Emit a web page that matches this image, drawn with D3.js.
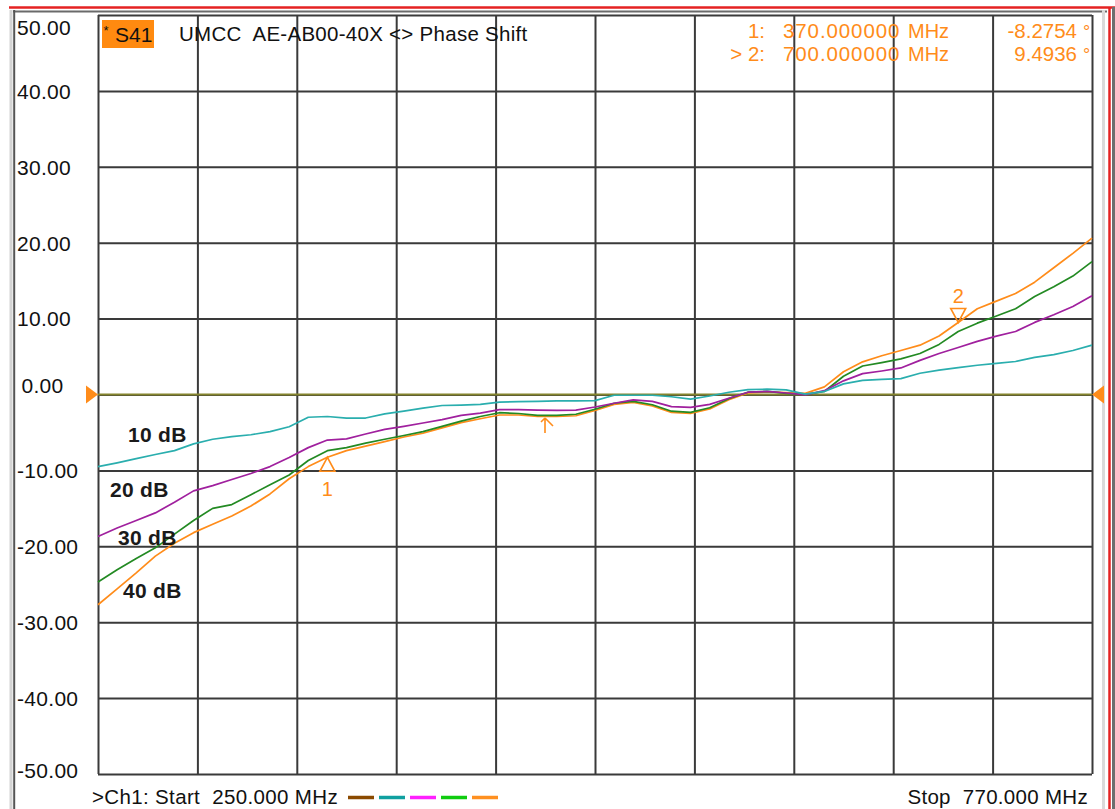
<!DOCTYPE html>
<html><head><meta charset="utf-8">
<script src="https://cdn.jsdelivr.net/npm/d3@7"></script>
<style>
html,body{margin:0;padding:0;background:#fff;overflow:hidden;}
svg{display:block;font-family:"Liberation Sans",Arial,sans-serif;}
text{white-space:pre;}
</style></head><body>
<svg id="chart" width="1115" height="809"></svg>
<script>
// ---------------- DATA ----------------
const freqMHz = [250,260,270,280,290,300,310,320,330,340,350,360,370,380,390,400,410,420,430,440,450,460,470,480,490,500,510,520,530,540,550,560,570,580,590,600,610,620,630,640,650,660,670,680,690,700,710,720,730,740,750,760,770];
const phase10dB = [-9.5,-9.0,-8.45,-7.9,-7.4,-6.5,-5.9,-5.55,-5.3,-4.9,-4.25,-3.0,-2.9,-3.1,-3.1,-2.55,-2.2,-1.8,-1.45,-1.4,-1.3,-1.0,-0.95,-0.9,-0.85,-0.85,-0.8,-0.1,-0.1,-0.1,-0.3,-0.6,-0.2,0.3,0.65,0.7,0.6,0.05,0.4,1.4,1.85,2.0,2.1,2.8,3.2,3.55,3.85,4.1,4.35,4.9,5.25,5.8,6.5];
const phase20dB = [-18.7,-17.6,-16.6,-15.6,-14.2,-12.7,-12.0,-11.2,-10.4,-9.5,-8.3,-7.0,-6.0,-5.85,-5.2,-4.6,-4.2,-3.75,-3.3,-2.75,-2.45,-2.0,-2.0,-2.05,-2.1,-2.05,-1.65,-1.15,-0.7,-0.9,-1.6,-1.7,-1.3,-0.5,0.3,0.4,0.2,-0.05,0.5,1.8,2.75,3.1,3.5,4.5,5.4,6.2,7.0,7.7,8.3,9.5,10.5,11.6,13.0];
const phase30dB = [-24.7,-23.1,-21.6,-20.2,-18.4,-16.6,-15.0,-14.5,-13.2,-11.9,-10.6,-8.7,-7.4,-7.0,-6.4,-5.9,-5.4,-4.9,-4.2,-3.5,-2.9,-2.4,-2.5,-2.75,-2.75,-2.6,-1.95,-1.15,-0.9,-1.35,-2.2,-2.35,-1.75,-0.55,0.3,0.4,0.15,0.0,0.4,2.4,3.75,4.2,4.7,5.4,6.6,8.3,9.4,10.35,11.3,12.9,14.2,15.6,17.5];
const phase40dB = [-27.7,-25.6,-23.5,-21.3,-19.6,-18.2,-17.1,-16.0,-14.7,-13.1,-11.1,-9.5,-8.2754,-7.4,-6.8,-6.2,-5.6,-5.1,-4.4,-3.7,-3.2,-2.7,-2.7,-2.9,-2.9,-2.8,-2.1,-1.3,-1.05,-1.5,-2.35,-2.5,-1.9,-0.7,0.2,0.35,0.25,0.15,1.0,3.0,4.3,5.1,5.8,6.5,7.7,9.4936,11.3,12.3,13.3,14.8,16.7,18.6,20.6];
const seriesLabels = ["10 dB","20 dB","30 dB","40 dB"];
const yTickValues = [50,40,30,20,10,0,-10,-20,-30,-40,-50];
const xGridValues = [250,302,354,406,458,510,562,614,666,718,770];
const markerNames = ["1","2"];
const markerFreqs = [370,700];
const markerValues = [-8.2754,9.4936];
const startMHz = 250, stopMHz = 770;
const titleText = "UMCC  AE-AB00-40X <> Phase Shift";
const traceName = "S41";

// ---------------- STYLE / LAYOUT ----------------
const W = 1115, H = 809;
const plot = {left:98, right:1092, top:15, bottom:774};
const ORANGE = "#ff8c1a";
const seriesColors = ["#2aaeae","#a0209e","#238a23","#ff8c1a"];
const legendColors = ["#8b4a00","#10a0a0","#ff20ff","#10cc10","#ff9020"];

const svg = d3.select("#chart");
const x = d3.scaleLinear().domain([startMHz, stopMHz]).range([plot.left, plot.right]);
const y = d3.scaleLinear().domain([-50, 50]).range([plot.bottom, plot.top]);

// frame
svg.append("rect").attr("x",0).attr("y",0).attr("width",W).attr("height",H).attr("fill","#fff");
svg.append("line").attr("x1",9).attr("x2",W).attr("y1",7.5).attr("y2",7.5).attr("stroke","#e52222").attr("stroke-width",2.5);
svg.append("line").attr("x1",13).attr("x2",1107).attr("y1",11.5).attr("y2",11.5).attr("stroke","#6a6a6a").attr("stroke-width",2);
svg.append("line").attr("x1",11).attr("x2",11).attr("y1",10).attr("y2",H).attr("stroke","#d4d4d4").attr("stroke-width",3);
svg.append("line").attr("x1",14.2).attr("x2",14.2).attr("y1",10).attr("y2",H).attr("stroke","#555").attr("stroke-width",2);
svg.append("line").attr("x1",1103.5).attr("x2",1103.5).attr("y1",10).attr("y2",H).attr("stroke","#dadada").attr("stroke-width",3);
svg.append("line").attr("x1",1109.5).attr("x2",1109.5).attr("y1",7).attr("y2",H).attr("stroke","#e52222").attr("stroke-width",2.5);
svg.append("line").attr("x1",1113.5).attr("x2",1113.5).attr("y1",7).attr("y2",H).attr("stroke","#6e6e6e").attr("stroke-width",3);

// grid via axes
const gridColor = "#3a3a3a";
const gx = svg.append("g").attr("transform",`translate(0,${plot.bottom})`)
  .call(d3.axisBottom(x).tickValues(xGridValues).tickSize(-(plot.bottom-plot.top)).tickFormat(""));
gx.select(".domain").remove();
gx.selectAll(".tick line").attr("stroke",gridColor).attr("stroke-width",2);

const gy = svg.append("g").attr("transform",`translate(${plot.left},0)`)
  .call(d3.axisLeft(y).tickValues(yTickValues).tickSize(-(plot.right-plot.left)).tickPadding(0)
    .tickFormat(d => (d<0?"-":"") + Math.abs(d).toFixed(2)));
gy.select(".domain").remove();
gy.selectAll(".tick line").attr("stroke",gridColor).attr("stroke-width",2);
gy.selectAll(".tick text")
  .attr("text-anchor","start")
  .attr("x", d => (d===0 ? 21.5 : 17) - plot.left)
  .attr("dy", d => d===50 ? "0.92em" : d===0 ? "-0.1em" : d===-50 ? "0.15em" : "0.35em")
  .attr("fill","#111").attr("font-size",21).attr("letter-spacing",0.3)
  .attr("font-family","'Liberation Sans',Arial,sans-serif");

// reference (zero) line
svg.append("line").attr("x1",plot.left).attr("x2",plot.right).attr("y1",y(0)).attr("y2",y(0))
  .attr("stroke","#85852f").attr("stroke-width",2);

// traces
const allSeries = [phase10dB, phase20dB, phase30dB, phase40dB];
const line = d3.line().x((d,i)=>x(freqMHz[i])).y(d=>y(d));
const drawOrder = [3,2,1,0];
drawOrder.forEach(k => {
  svg.append("path").datum(allSeries[k]).attr("d",line)
    .attr("fill","none").attr("stroke",seriesColors[k]).attr("stroke-width",1.7)
    .attr("stroke-linejoin","round");
});

// series labels
const labelPos = [[128,442],[110,497],[118,545],[123,598]];
seriesLabels.forEach((t,i)=>{
  svg.append("text").attr("x",labelPos[i][0]).attr("y",labelPos[i][1]).text(t)
    .attr("font-size",21).attr("font-weight","bold").attr("fill","#1a1a1a").attr("letter-spacing",0.3);
});

// reference triangles at zero
const y0 = y(0);
svg.append("path").attr("d",`M${plot.left-12},${y0-9}L${plot.left},${y0}L${plot.left-12},${y0+9}Z`).attr("fill",ORANGE);
svg.append("path").attr("d",`M${plot.right+12},${y0-9}L${plot.right},${y0}L${plot.right+12},${y0+9}Z`).attr("fill",ORANGE);

// markers
markerFreqs.forEach((f,i)=>{
  const mx = x(f), my = y(markerValues[i]);
  if (markerValues[i] < 0) {
    svg.append("path").attr("d",`M${mx},${my}L${mx-7.5},${my+14}L${mx+7.5},${my+14}Z`)
      .attr("fill","none").attr("stroke",ORANGE).attr("stroke-width",1.6);
    svg.append("text").attr("x",mx).attr("y",my+39).attr("text-anchor","middle").text(markerNames[i])
      .attr("fill",ORANGE).attr("font-size",20);
  } else {
    svg.append("path").attr("d",`M${mx},${my}L${mx-7.5},${my-14}L${mx+7.5},${my-14}Z`)
      .attr("fill","none").attr("stroke",ORANGE).attr("stroke-width",1.6);
    svg.append("text").attr("x",mx).attr("y",my-19).attr("text-anchor","middle").text(markerNames[i])
      .attr("fill",ORANGE).attr("font-size",20);
  }
});
// small stimulus arrow
svg.append("path").attr("d","M545,433L545,418M545,418L553,426M545,418L541,422")
  .attr("fill","none").attr("stroke",ORANGE).attr("stroke-width",1.6);

// header
svg.append("rect").attr("x",102).attr("y",20).attr("width",52).attr("height",28).attr("fill","#ff8a10");
svg.append("text").attr("x",103.5).attr("y",35).text("*").attr("font-size",13).attr("fill","#111");
svg.append("text").attr("x",115).attr("y",42).text(traceName).attr("font-size",21).attr("fill","#111");
svg.append("text").attr("x",179).attr("y",41).text(titleText).attr("font-size",20.5).attr("fill","#111").attr("letter-spacing",0.28);

// marker readout
const fmtF = d3.format(".6f");
markerFreqs.forEach((f,i)=>{
  const by = i===0 ? 37.5 : 61;
  svg.append("text").attr("x",765).attr("y",by).attr("text-anchor","end")
    .text((i===1?"> ":"") + markerNames[i] + ":").attr("fill",ORANGE).attr("font-size",20.5);
  svg.append("text").attr("x",783).attr("y",by).text(fmtF(f)).attr("fill",ORANGE).attr("font-size",20.5).attr("letter-spacing",0.9);
  svg.append("text").attr("x",908).attr("y",by).text("MHz").attr("fill",ORANGE).attr("font-size",20);
  svg.append("text").attr("x",1077).attr("y",by).attr("text-anchor","end")
    .text(markerValues[i].toFixed(4)).attr("fill",ORANGE).attr("font-size",20.5);
  svg.append("text").attr("x",1083).attr("y",by).text("°").attr("fill",ORANGE).attr("font-size",18);
});

// footer
svg.append("text").attr("x",92).attr("y",804).text(">Ch1: Start  " + startMHz.toFixed(3) + " MHz")
  .attr("font-size",20.5).attr("fill","#111").attr("letter-spacing",0.35);
legendColors.forEach((c,i)=>{
  const lx = 348 + i*31;
  svg.append("line").attr("x1",lx).attr("x2",lx+26).attr("y1",797.5).attr("y2",797.5)
    .attr("stroke",c).attr("stroke-width",3.5);
});
svg.append("text").attr("x",1088).attr("y",804).attr("text-anchor","end").text("Stop  " + stopMHz.toFixed(3) + " MHz")
  .attr("font-size",20.5).attr("fill","#111").attr("letter-spacing",0.3);
</script>
</body></html>
